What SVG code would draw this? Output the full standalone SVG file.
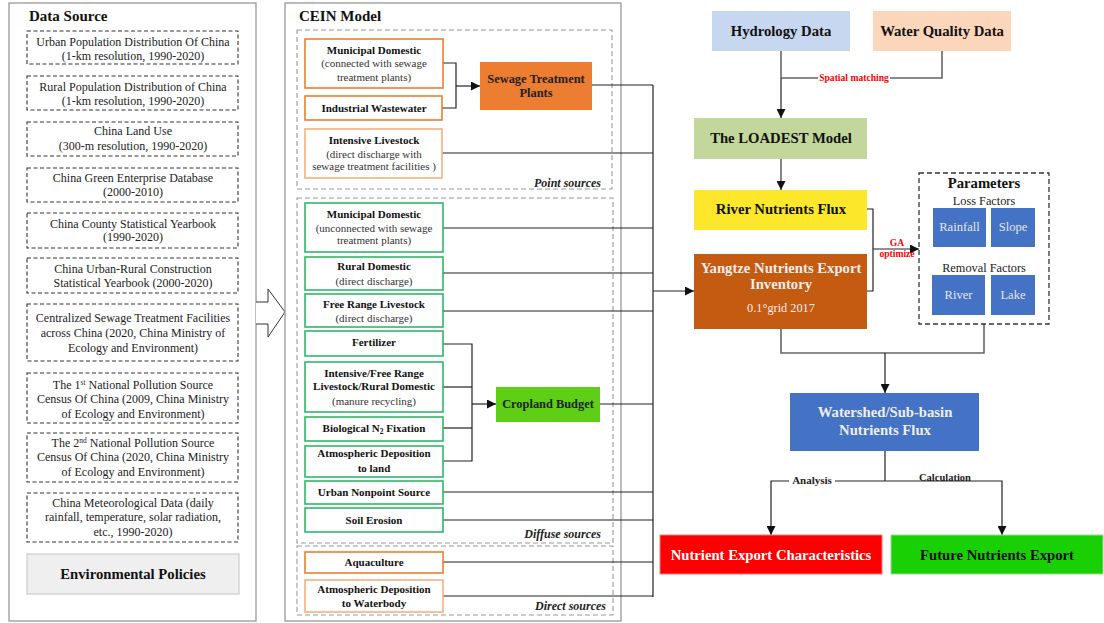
<svg xmlns="http://www.w3.org/2000/svg" width="1104" height="623" viewBox="0 0 1104 623" font-family="'Liberation Serif','Times New Roman',serif">
<defs>
<marker id="ah" markerUnits="userSpaceOnUse" markerWidth="9" markerHeight="9" viewBox="0 0 10 10" refX="10" refY="5" orient="auto">
<path d="M0,0 L10,5 L0,10 z" fill="#111"/>
</marker>
</defs>
<style>
text{font-family:"Liberation Serif","Times New Roman",serif;fill:#222}
.ds{fill:#fff;stroke:#333;stroke-width:1.1;stroke-dasharray:4 2.5}
.dt{font-size:12px;text-anchor:middle}
.panel{fill:#fff;stroke:#999;stroke-width:1.3}
.grp{fill:none;stroke:#999;stroke-width:1.1;stroke-dasharray:5 3}
.title{font-size:15px;font-weight:bold;fill:#111}
.ob{fill:#fff;stroke:#ED7D31;stroke-width:1.6}
.ob2{fill:#fff;stroke:#F4B183;stroke-width:1.6}
.gb{fill:#fff;stroke:#2DB868;stroke-width:1.6}
.bt{font-size:11px;font-weight:bold;text-anchor:middle;fill:#111}
.nt{font-size:11px;text-anchor:middle;fill:#333}
.lab{font-size:12px;font-weight:bold;font-style:italic;text-anchor:end;fill:#222}
.big{font-size:14.7px;font-weight:bold;text-anchor:middle;fill:#111}
.wt{fill:#eee}
.ln{fill:none;stroke:#222;stroke-width:1.2}
.lg{fill:none;stroke:#666;stroke-width:1.6}
.red{font-size:9.6px;font-weight:bold;fill:#FF0000;text-anchor:middle}
.pb{fill:#4472C4}
.pt{font-size:12.6px;text-anchor:middle;fill:#e6e6e6}
</style>

<!-- Left panel: Data Source -->
<g id="data-source-panel">
<rect class="panel" x="9" y="3" width="247" height="618"/>
<text class="title" x="29" y="21">Data Source</text>
</g>
<g id="ds1"><rect class="ds" x="27" y="31" width="211" height="33"/>
<text class="dt" x="133" y="46">Urban Population Distribution Of China</text>
<text class="dt" x="133" y="60">(1-km resolution, 1990-2020)</text></g>
<g id="ds2"><rect class="ds" x="27" y="76" width="211" height="34"/>
<text class="dt" x="133" y="91">Rural Population Distribution of China</text>
<text class="dt" x="133" y="105">(1-km resolution, 1990-2020)</text></g>
<g id="ds3"><rect class="ds" x="27" y="122" width="211" height="34"/>
<text class="dt" x="133" y="135">China Land Use</text>
<text class="dt" x="133" y="150">(300-m resolution, 1990-2020)</text></g>
<g id="ds4"><rect class="ds" x="27" y="168" width="211" height="34"/>
<text class="dt" x="133" y="182">China Green Enterprise Database</text>
<text class="dt" x="133" y="196">(2000-2010)</text></g>
<g id="ds5"><rect class="ds" x="27" y="213" width="211" height="35"/>
<text class="dt" x="133" y="228">China County Statistical Yearbook</text>
<text class="dt" x="133" y="241">(1990-2020)</text></g>
<g id="ds6"><rect class="ds" x="27" y="258" width="211" height="35"/>
<text class="dt" x="133" y="273">China Urban-Rural Construction</text>
<text class="dt" x="133" y="287">Statistical Yearbook (2000-2020)</text></g>
<g id="ds7"><rect class="ds" x="27" y="304" width="211" height="57"/>
<text class="dt" x="133" y="322">Centralized Sewage Treatment Facilities</text>
<text class="dt" x="133" y="337">across China (2020, China Ministry of</text>
<text class="dt" x="133" y="352">Ecology and Environment)</text></g>
<g id="ds8"><rect class="ds" x="27" y="373" width="211" height="50"/>
<text class="dt" x="133" y="389">The 1<tspan font-size="7.5" dy="-4">st</tspan><tspan dy="4"> National Pollution Source</tspan></text>
<text class="dt" x="133" y="403">Census Of China (2009, China Ministry</text>
<text class="dt" x="133" y="418">of Ecology and Environment)</text></g>
<g id="ds9"><rect class="ds" x="27" y="433" width="211" height="49"/>
<text class="dt" x="133" y="447">The 2<tspan font-size="7.5" dy="-4">nd</tspan><tspan dy="4"> National Pollution Source</tspan></text>
<text class="dt" x="133" y="461">Census Of China (2020, China Ministry</text>
<text class="dt" x="133" y="476">of Ecology and Environment)</text></g>
<g id="ds10"><rect class="ds" x="27" y="493" width="211" height="49"/>
<text class="dt" x="133" y="507">China Meteorological Data (daily</text>
<text class="dt" x="133" y="521">rainfall, temperature, solar radiation,</text>
<text class="dt" x="133" y="536">etc., 1990-2020)</text></g>
<g id="env-policies"><rect x="27" y="554" width="212" height="40" fill="#EFEFEF" stroke="#CCCCCC" stroke-width="1.2"/>
<text class="big" x="133" y="579">Environmental Policies</text></g>

<!-- hollow arrow -->
<g id="big-arrow">
<path d="M256,302 L268,302 L268,289 L285,312 L268,337 L268,324 L256,324" fill="#fff" stroke="#333" stroke-width="1"/>
</g>

<!-- CEIN panel -->
<g id="cein-panel">
<rect class="panel" x="285" y="3" width="336" height="618"/>
<text class="title" x="299" y="21">CEIN Model</text>
<rect class="grp" x="297" y="30" width="315" height="159"/>
<text class="lab" x="601" y="187">Point sources</text>
<rect class="grp" x="297" y="198" width="316" height="345"/>
<text class="lab" x="601" y="538">Diffuse sources</text>
<rect class="grp" x="297" y="546" width="316" height="69"/>
<text class="lab" x="606" y="610">Direct sources</text>
</g>

<g id="connectors">
<!-- point sources to STP -->
<polyline class="ln" points="443,63 456,63 456,108 442,108"/>
<line class="ln" x1="456" y1="86" x2="480" y2="86" marker-end="url(#ah)"/>
<!-- cropland -->
<polyline class="ln" points="443,344 472,344 472,461 443,461"/>
<line class="ln" x1="443" y1="387" x2="472" y2="387"/>
<line class="ln" x1="443" y1="428" x2="472" y2="428"/>
<line class="ln" x1="472" y1="404" x2="496" y2="404" marker-end="url(#ah)"/>
<!-- bus -->
<line class="ln" x1="653" y1="85" x2="653" y2="597"/>
<line class="ln" x1="592" y1="85" x2="653" y2="85"/>
<line class="ln" x1="442" y1="153" x2="653" y2="153"/>
<line class="ln" x1="443" y1="228" x2="653" y2="228"/>
<line class="ln" x1="443" y1="273" x2="653" y2="273"/>
<line class="ln" x1="443" y1="311" x2="653" y2="311"/>
<line class="ln" x1="600" y1="404" x2="653" y2="404"/>
<line class="ln" x1="443" y1="492" x2="653" y2="492"/>
<line class="ln" x1="443" y1="520" x2="653" y2="520"/>
<line class="ln" x1="443" y1="562" x2="653" y2="562"/>
<line class="ln" x1="443" y1="596" x2="653" y2="596"/>
<line class="ln" x1="653" y1="291" x2="694" y2="291" stroke-width="1.8" marker-end="url(#ah)"/>
<!-- hydrology / water quality -->
<polyline class="lg" points="942,51 942,78 781,78"/>
<line class="lg" x1="781" y1="51" x2="781" y2="78"/>
<line class="ln" x1="781" y1="78" x2="781" y2="118" stroke-width="1.6" marker-end="url(#ah)"/>
<rect x="818" y="73" width="72" height="10" fill="#fff"/>
<text class="red" x="854" y="81">Spatial matching</text>
<line class="lg" x1="781" y1="159" x2="781" y2="190" marker-end="url(#ah)"/>
<!-- GA -->
<polyline class="ln" points="867,209 873,209 873,291 867,291"/>
<line class="ln" x1="873" y1="249" x2="919" y2="249" marker-end="url(#ah)"/>
<text class="red" x="897" y="246" font-size="10.5">GA</text>
<text class="red" x="897" y="257">optimize</text>
<!-- to watershed -->
<polyline class="lg" points="781,329 781,353 984,353 984,324"/>
<line class="ln" x1="885" y1="353" x2="885" y2="393" stroke-width="1.4" marker-end="url(#ah)"/>
<!-- outputs -->
<line class="ln" x1="885" y1="451" x2="885" y2="481"/>
<polyline class="ln" points="771,500 771,481 1002,481 1002,500"/>
<line class="ln" x1="771" y1="500" x2="771" y2="535" marker-end="url(#ah)"/>
<line class="ln" x1="1002" y1="500" x2="1002" y2="535" marker-end="url(#ah)"/>
<rect x="789" y="474" width="46" height="12" fill="#fff"/>
<text x="812" y="484" font-size="11" font-weight="bold" text-anchor="middle" fill="#222">Analysis</text>
<rect x="917" y="472" width="56" height="8" fill="#fff"/>
<text x="945" y="481" font-size="10.5" font-weight="bold" text-anchor="middle" fill="#222">Calculation</text>
</g>

<!-- Point sources -->
<g id="municipal-connected"><rect class="ob" x="305" y="39" width="138" height="49"/>
<text class="bt" x="374" y="54">Municipal Domestic</text>
<text class="nt" x="374" y="67">(connected with sewage</text>
<text class="nt" x="374" y="81">treatment plants)</text></g>
<g id="industrial"><rect class="ob" x="305" y="96" width="137" height="24"/>
<text class="bt" x="374" y="112">Industrial Wastewater</text></g>
<g id="intensive-livestock"><rect class="ob2" x="305" y="129" width="137" height="49"/>
<text class="bt" x="374" y="144">Intensive Livestock</text>
<text class="nt" x="374" y="158">(direct discharge with</text>
<text class="nt" x="374" y="170">sewage treatment facilities )</text></g>
<g id="stp"><rect x="480" y="62" width="112" height="48" fill="#ED7D31"/>
<text x="536" y="83" font-size="12.4" font-weight="bold" text-anchor="middle" fill="#111">Sewage Treatment</text>
<text x="536" y="97" font-size="12.4" font-weight="bold" text-anchor="middle" fill="#111">Plants</text></g>

<!-- Diffuse -->
<g id="municipal-unconnected"><rect class="gb" x="305" y="203" width="138" height="49"/>
<text class="bt" x="374" y="218">Municipal Domestic</text>
<text class="nt" x="374" y="232">(unconnected with sewage</text>
<text class="nt" x="374" y="244">treatment plants)</text></g>
<g id="rural-domestic"><rect class="gb" x="305" y="257" width="138" height="33"/>
<text class="bt" x="374" y="270">Rural Domestic</text>
<text class="nt" x="374" y="285">(direct discharge)</text></g>
<g id="free-range"><rect class="gb" x="305" y="294" width="138" height="33"/>
<text class="bt" x="374" y="308">Free Range Livestock</text>
<text class="nt" x="374" y="322">(direct discharge)</text></g>
<g id="fertilizer"><rect class="gb" x="305" y="331" width="138" height="25"/>
<text class="bt" x="374" y="346">Fertilizer</text></g>
<g id="manure"><rect class="gb" x="305" y="362" width="138" height="50"/>
<text class="bt" x="374" y="377">Intensive/Free Range</text>
<text class="bt" x="374" y="390">Livestock/Rural Domestic</text>
<text class="nt" x="374" y="405">(manure recycling)</text></g>
<g id="bnf"><rect class="gb" x="305" y="417" width="138" height="24"/>
<text class="bt" x="374" y="432">Biological N<tspan font-size="7.5" dy="2">2</tspan><tspan dy="-2"> Fixation</tspan></text></g>
<g id="atm-land"><rect class="gb" x="305" y="446" width="138" height="31"/>
<text class="bt" x="374" y="457">Atmospheric Deposition</text>
<text class="bt" x="374" y="472">to land</text></g>
<g id="urban-nonpoint"><rect class="gb" x="305" y="481" width="138" height="23"/>
<text class="bt" x="374" y="496">Urban Nonpoint Source</text></g>
<g id="soil-erosion"><rect class="gb" x="305" y="508" width="138" height="24"/>
<text class="bt" x="374" y="524">Soil Erosion</text></g>
<g id="cropland"><rect x="496" y="387" width="104" height="35" fill="#5ECF14"/>
<text x="548" y="408" font-size="12.4" font-weight="bold" text-anchor="middle" fill="#111">Cropland Budget</text></g>

<!-- Direct -->
<g id="aquaculture"><rect class="ob" x="305" y="552" width="138" height="21"/>
<text class="bt" x="374" y="566">Aquaculture</text></g>
<g id="atm-water"><rect class="ob2" x="305" y="580" width="138" height="32"/>
<text class="bt" x="374" y="593">Atmospheric Deposition</text>
<text class="bt" x="374" y="607">to Waterbody</text></g>

<!-- Right side -->
<g id="hydrology"><rect x="712" y="11" width="138" height="40" fill="#C6D7EF"/>
<text class="big" x="781" y="36">Hydrology Data</text></g>
<g id="water-quality"><rect x="873" y="11" width="138" height="40" fill="#FBD6BA"/>
<text class="big" x="942" y="36">Water Quality Data</text></g>
<g id="loadest"><rect x="694" y="118" width="173" height="41" fill="#C3D69C"/>
<text class="big" x="781" y="143">The LOADEST Model</text></g>
<g id="river-flux"><rect x="694" y="190" width="173" height="40" fill="#FCE72B"/>
<text class="big" x="781" y="214">River Nutrients Flux</text></g>
<g id="yangtze"><rect x="694" y="254" width="173" height="75" fill="#C55A11"/>
<text class="big wt" x="781" y="273" font-size="15.4">Yangtze Nutrients Export</text>
<text class="big wt" x="781" y="289" font-size="15.4">Inventory</text>
<text x="781" y="312" font-size="12.3" text-anchor="middle" fill="#eee" style="fill:#eee">0.1°grid 2017</text></g>
<g id="parameters"><rect x="919" y="173" width="130" height="151" fill="#fff" stroke="#333" stroke-width="1.3" stroke-dasharray="5 3"/>
<text class="big" x="984" y="188">Parameters</text>
<text x="984" y="205" font-size="12.3" text-anchor="middle" fill="#222">Loss Factors</text>
<rect class="pb" x="933" y="208" width="53" height="39"/>
<text class="pt" x="959.5" y="231">Rainfall</text>
<rect class="pb" x="991" y="208" width="44" height="39"/>
<text class="pt" x="1013" y="231">Slope</text>
<text x="984" y="272" font-size="12.3" text-anchor="middle" fill="#222">Removal Factors</text>
<rect class="pb" x="932" y="275" width="53" height="40"/>
<text class="pt" x="958.5" y="299">River</text>
<rect class="pb" x="991" y="275" width="44" height="40"/>
<text class="pt" x="1013" y="299">Lake</text></g>
<g id="watershed"><rect x="790" y="393" width="189" height="58" fill="#4472C4"/>
<text class="big wt" x="885" y="417">Watershed/Sub-basin</text>
<text class="big wt" x="885" y="435">Nutrients Flux</text></g>
<g id="nec"><rect x="660" y="535" width="222" height="39" fill="#FF0000" stroke="#E58080" stroke-width="1"/>
<text class="big" x="771" y="560" style="fill:#fff">Nutrient Export Characteristics</text></g>
<g id="future"><rect x="891" y="535" width="212" height="39" fill="#18D004" stroke="#9ED99A" stroke-width="1"/>
<text class="big" x="997" y="560">Future Nutrients Export</text></g>
</svg>
